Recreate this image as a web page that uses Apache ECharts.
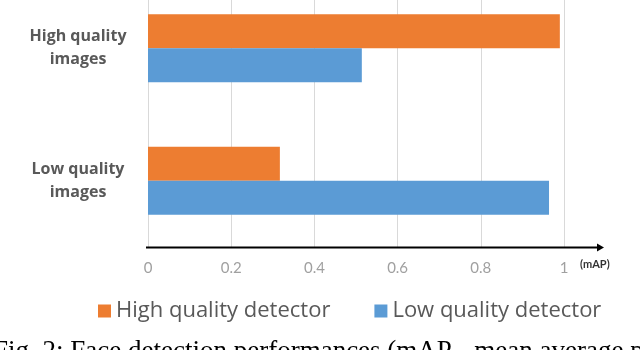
<!DOCTYPE html>
<html>
<head>
<meta charset="utf-8">
<script src="https://cdn.jsdelivr.net/npm/echarts@6/dist/echarts.min.js"></script>
<style>
  html, body { margin: 0; padding: 0; background: #fff; }
  #chart { width: 640px; height: 350px; }
</style>
</head>
<body>
<div id="chart"></div>
<script>
// data
var categories = ["High quality\nimages", "Low quality\nimages"];
var seriesNames = ["High quality detector", "Low quality detector"];
var highDetector = [0.99, 0.317];
var lowDetector = [0.514, 0.964];
var xTicks = { min: 0, max: 1, interval: 0.2 };

var chart = echarts.init(document.getElementById("chart"));

var option = {
  animation: false,
  backgroundColor: "#fff",
  grid: { left: 148, right: 76, top: -18, bottom: 103, containLabel: false, outerBoundsMode: "none" },
  legend: {
    data: seriesNames,
    left: 93,
    top: 295,
    itemWidth: 13,
    itemHeight: 13,
    itemGap: 44,
    icon: "rect",
    textStyle: { fontFamily: "Open Sans", fontSize: 22, color: "#595959" }
  },
  xAxis: {
    type: "value",
    min: xTicks.min,
    max: xTicks.max,
    interval: xTicks.interval,
    axisLine: { show: false },
    axisTick: { show: false },
    splitLine: { show: true, lineStyle: { color: "#d9d9d9", width: 1 } },
    axisLabel: {
      margin: 14,
      fontFamily: "Lato",
      fontSize: 15,
      color: "#a0a0a0",
      formatter: function (v) { return v === 0 || v === 1 ? String(v) : v.toFixed(1); }
    }
  },
  yAxis: {
    type: "category",
    inverse: true,
    data: categories,
    axisLine: { show: false },
    axisTick: { show: false },
    axisLabel: {
      margin: 70,
      align: "center",
      fontFamily: "Open Sans",
      fontWeight: "bold",
      fontSize: 16,
      lineHeight: 23,
      color: "#595959"
    }
  },
  series: [
    {
      name: seriesNames[0],
      type: "bar",
      data: highDetector,
      barWidth: 34,
      barGap: "0%",
      itemStyle: { color: "#ED7D31" }
    },
    {
      name: seriesNames[1],
      type: "bar",
      data: lowDetector,
      barWidth: 34,
      barGap: "0%",
      itemStyle: { color: "#5B9BD5" }
    }
  ]
};

chart.setOption(option);

// axis arrow, unit label and caption
var axisY = chart.getHeight() - 103 + 0.5;
var x0 = chart.convertToPixel({ xAxisIndex: 0 }, 0);
var x1 = chart.convertToPixel({ xAxisIndex: 0 }, 1);
var arrowEnd = x1 + 40;
chart.setOption({
  graphic: [
    {
      type: "line",
      shape: { x1: x0 - 2, y1: axisY, x2: arrowEnd - 4, y2: axisY },
      style: { stroke: "#000", lineWidth: 2 }
    },
    {
      type: "polygon",
      shape: { points: [[arrowEnd - 7, axisY - 4], [arrowEnd, axisY], [arrowEnd - 7, axisY + 4]] },
      style: { fill: "#000" }
    },
    {
      type: "text",
      left: x1 + 16,
      top: axisY + 11,
      style: { text: "(mAP)", font: "bold 11px Lato", fill: "#333" }
    },
    {
      type: "text",
      left: -7,
      top: 338,
      style: {
        text: "Fig. 2: Face detection performances (mAP - mean average precision)",
        font: "27px 'Liberation Serif'",
        fill: "#000"
      }
    }
  ]
});
</script>
</body>
</html>
